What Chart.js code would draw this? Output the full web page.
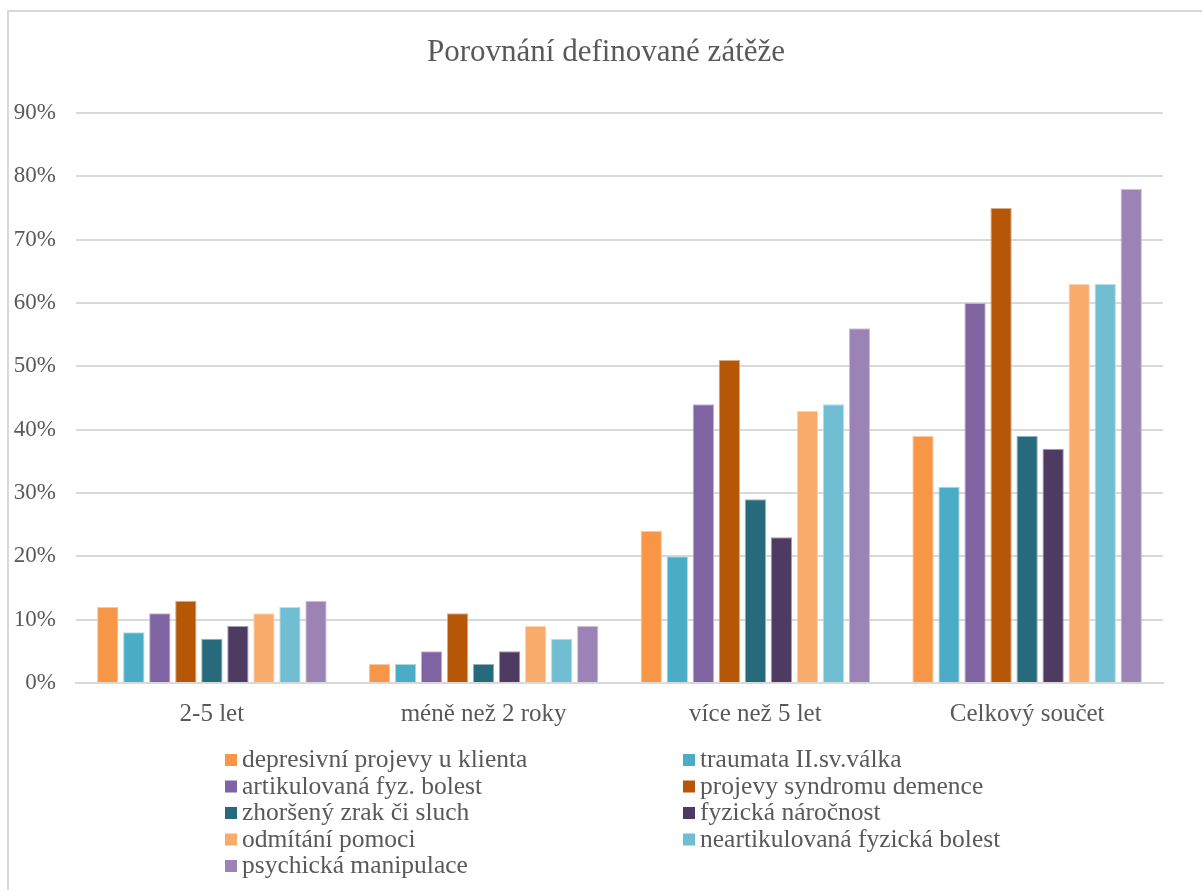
<!DOCTYPE html>
<html lang="cs">
<head>
<meta charset="utf-8">
<title>Porovnání definované zátěže</title>
<script src="https://cdn.jsdelivr.net/npm/chart.js@4/dist/chart.umd.min.js"></script>
<style>
  html, body { margin: 0; padding: 0; background: #ffffff; }
  #wrap { position: relative; width: 1202px; height: 890px; }
</style>
</head>
<body>
<div id="wrap"><canvas id="chart" width="1202" height="890"></canvas></div>
<script>
// Categories (length of care)
const categories = ['2-5 let', 'méně než 2 roky', 'více než 5 let', 'Celkový součet'];

// Series labels and values (% of respondents)
const seriesNames = [
  'depresivní projevy u klienta',
  'traumata II.sv.válka',
  'artikulovaná fyz. bolest',
  'projevy syndromu demence',
  'zhoršený zrak či sluch',
  'fyzická náročnost',
  'odmítání pomoci',
  'neartikulovaná fyzická bolest',
  'psychická manipulace'
];
const depresivniProjevy   = [12, 3, 24, 39];
const traumataValka       = [8, 3, 20, 31];
const artikulovanaBolest  = [11, 5, 44, 60];
const syndromDemence      = [13, 11, 51, 75];
const zrakSluch           = [7, 3, 29, 39];
const fyzickaNarocnost    = [9, 5, 23, 37];
const odmitaniPomoci      = [11, 9, 43, 63];
const neartikulovanaBolest = [12, 7, 44, 63];
const psychickaManipulace = [13, 9, 56, 78];

const yTicks = [0, 10, 20, 30, 40, 50, 60, 70, 80, 90];

const seriesValues = [
  depresivniProjevy, traumataValka, artikulovanaBolest, syndromDemence,
  zrakSluch, fyzickaNarocnost, odmitaniPomoci, neartikulovanaBolest, psychickaManipulace
];
const seriesColors = ['#F79646', '#4BACC6', '#8064A2', '#B65708', '#276A7C', '#4E3B62', '#F9AB6B', '#71BDD2', '#9B83B5'];
const seriesBorders = ['#FAC9A3', '#A9D9E6', '#BFB0D3', '#DBAB83', '#93B4BD', '#A79DB0', '#FCD5B5', '#B8DEE8', '#CDC1DA'];

const FONT = '"Liberation Serif", "Times New Roman", serif';
const TEXT = '#595959';

// Outer frame and white background
const framePlugin = {
  id: 'frame',
  beforeDraw(chart) {
    const ctx = chart.ctx;
    ctx.save();
    ctx.fillStyle = '#ffffff';
    ctx.fillRect(0, 0, chart.width, chart.height);
    ctx.strokeStyle = '#d9d9d9';
    ctx.lineWidth = 2;
    ctx.strokeRect(8, 11, chart.width + 20, chart.height + 20);
    ctx.restore();
  }
};

// Title drawn above the plot
const titlePlugin = {
  id: 'topTitle',
  afterDraw(chart) {
    const ctx = chart.ctx;
    ctx.save();
    ctx.font = '31px ' + FONT;
    ctx.fillStyle = TEXT;
    ctx.textAlign = 'center';
    ctx.textBaseline = 'alphabetic';
    ctx.fillText('Porovnání definované zátěže', 606, 61);
    ctx.restore();
  }
};

// Two-column legend below the axis labels
const legendPlugin = {
  id: 'twoColLegend',
  afterDraw(chart) {
    const ctx = chart.ctx;
    ctx.save();
    ctx.font = '25.5px ' + FONT;
    ctx.textAlign = 'left';
    ctx.textBaseline = 'alphabetic';
    chart.data.datasets.forEach((ds, i) => {
      const col = i % 2;
      const row = Math.floor(i / 2);
      const x = col === 0 ? 225 : 683;
      const top = 754 + row * 26.5;
      ctx.fillStyle = ds.backgroundColor;
      ctx.fillRect(x, top, 12, 12);
      ctx.fillStyle = TEXT;
      ctx.fillText(ds.label, x + 17, top + 13);
    });
    ctx.restore();
  }
};

const datasets = seriesNames.map((name, i) => ({
  label: name,
  data: seriesValues[i],
  backgroundColor: seriesColors[i],
  borderColor: seriesBorders[i],
  borderWidth: 1,
  categoryPercentage: 0.862,
  barPercentage: 0.82
}));

new Chart(document.getElementById('chart'), {
  type: 'bar',
  data: { labels: categories, datasets },
  plugins: [framePlugin, titlePlugin, legendPlugin],
  options: {
    responsive: false,
    animation: false,
    layout: { padding: { left: 0, right: 39, top: 113, bottom: 157 } },
    plugins: {
      legend: { display: false },
      title: { display: false },
      tooltip: { enabled: false }
    },
    scales: {
      x: {
        grid: { display: false, drawTicks: false },
        border: { display: true, color: '#d9d9d9', width: 2 },
        ticks: { color: TEXT, font: { family: FONT, size: 25 }, padding: 16, maxRotation: 0 },
        afterFit(scale) { scale.height = 50; }
      },
      y: {
        min: 0,
        max: 90,
        afterBuildTicks(scale) { scale.ticks = yTicks.map(v => ({ value: v })); },
        grid: { color: '#d9d9d9', lineWidth: 2, drawTicks: false },
        border: { display: false },
        ticks: {
          color: TEXT,
          font: { family: FONT, size: 23 },
          padding: 20,
          callback: v => v + '%'
        },
        afterFit(scale) { scale.width = 76; }
      }
    }
  }
});
</script>
</body>
</html>
